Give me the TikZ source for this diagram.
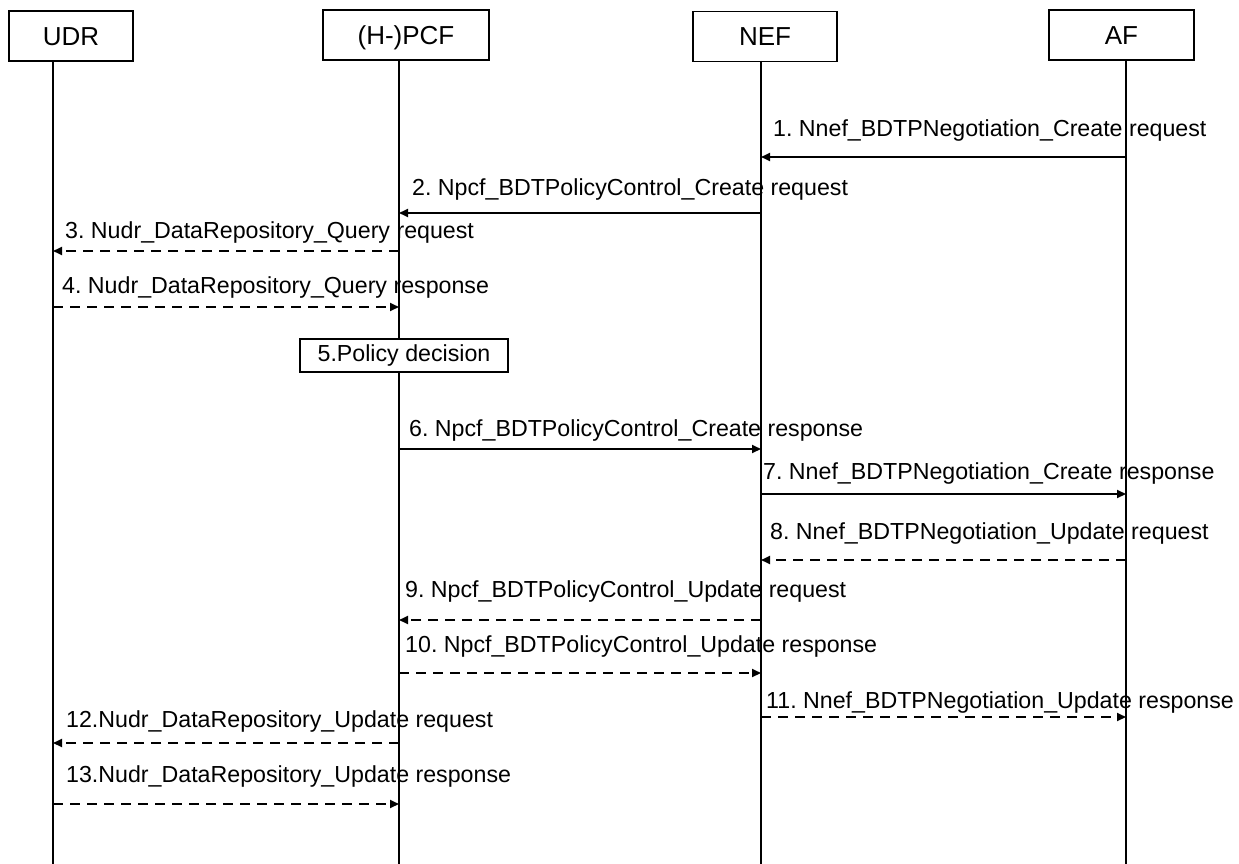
\documentclass[tikz,border=0pt]{standalone}
\usepackage{fontspec}
\setmainfont{Liberation Sans}
\usetikzlibrary{arrows.meta}
\frenchspacing

\tikzset{
  entity/.style={draw, line width=1.4pt, inner sep=0pt, minimum height=50pt,
                 text height=19pt, text depth=0pt, font=\fontsize{26}{30}\selectfont},
  lifeline/.style={line width=1.3pt},
  msg/.style={line width=2pt, -{Triangle[length=9pt,width=8pt]}},
  reply/.style={msg, dash pattern=on 10pt off 7pt},
  msglabel/.style={anchor=base west, inner sep=0pt, font=\fontsize{23.2}{26}\selectfont},
}

\begin{document}
\begin{tikzpicture}[x=1pt, y=-1pt]
  \useasboundingbox (0,0) rectangle (1239,864);
  % the four parties
  \node[entity, minimum width=124pt] (udrbox) at (71,36)    {UDR};
  \node[entity, minimum width=166pt] (pcfbox) at (406,35)   {(H-)PCF};
  \node[entity, minimum width=144pt] (nefbox) at (765,36.5) {NEF};
  \node[entity, minimum width=145pt] (afbox)  at (1121.5,35) {AF};
  % lifelines
  \coordinate (udr) at (53,61);   \coordinate (udrend) at (53,864);
  \coordinate (pcf) at (399,60);  \coordinate (pcfend) at (399,864);
  \coordinate (nef) at (761,61);  \coordinate (nefend) at (761,864);
  \coordinate (af)  at (1126,60); \coordinate (afend)  at (1126,864);
  \foreach \p in {udr,pcf,nef,af}{ \draw[lifeline] (\p) -- (\p end); }
  % local step at the PCF
  \node[draw, fill=white, line width=1.4pt, minimum width=208pt, minimum height=33pt,
        inner sep=0pt, text height=16.5pt, text depth=4pt,
        font=\fontsize{23.2}{26}\selectfont] (policy) at (404,355.5) {5.Policy decision};
  % messages: from/to/arrow y/label y/label x/style/text
  \foreach \a/\b/\y/\ty/\tx/\st/\txt [count=\i] in {
      af/nef/157/136/773/msg/{1. Nnef\_BDTPNegotiation\_Create request},
      nef/pcf/213/195/412/msg/{2. Npcf\_BDTPolicyControl\_Create request},
      pcf/udr/251/238/65/reply/{3. Nudr\_DataRepository\_Query request},
      udr/pcf/307/293/62/reply/{4. Nudr\_DataRepository\_Query response},
      pcf/nef/449/436/409/msg/{6. Npcf\_BDTPolicyControl\_Create response},
      nef/af/494/479/763/msg/{7. Nnef\_BDTPNegotiation\_Create response},
      af/nef/560/539/770/reply/{8. Nnef\_BDTPNegotiation\_Update request},
      nef/pcf/620/597/405/reply/{9. Npcf\_BDTPolicyControl\_Update request},
      pcf/nef/673/652/405/reply/{10. Npcf\_BDTPolicyControl\_Update response},
      nef/af/717/708/766/reply/{11. Nnef\_BDTPNegotiation\_Update response},
      pcf/udr/743/727/66/reply/{12.Nudr\_DataRepository\_Update request},
      udr/pcf/804/782/66/reply/{13.Nudr\_DataRepository\_Update response}}{
    \draw[\st] (\a |- 0,\y) -- (\b |- 0,\y);
    \node[msglabel] (m\i) at (\tx,\ty) {\txt};
  }
\end{tikzpicture}
\end{document}
